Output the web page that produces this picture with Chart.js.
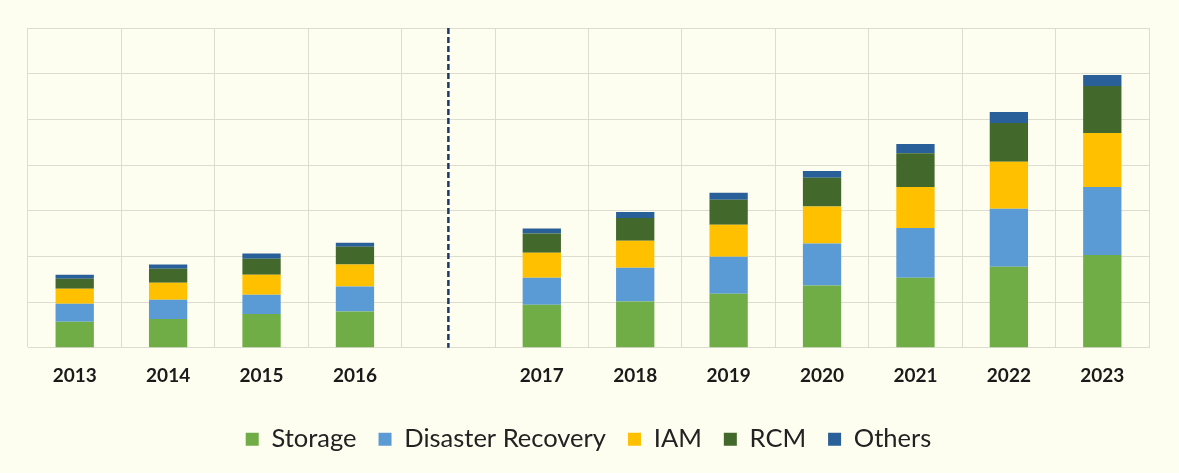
<!DOCTYPE html>
<html>
<head>
<meta charset="utf-8">
<script src="https://cdn.jsdelivr.net/npm/chart.js@4"></script>
<style>
  html, body { margin: 0; padding: 0; background: #fefef0; }
  #wrap { width: 1179px; height: 473px; }
</style>
</head>
<body>
<div id="wrap"><canvas id="marketChart"></canvas></div>
<script>
// years, with an empty slot where the dashed divider sits
const years = ['2013', '2014', '2015', '2016', '', '2017', '2018', '2019', '2020', '2021', '2022', '2023'];

const storage  = [0.57, 0.63, 0.74, 0.79, null, 0.94, 1.01, 1.18, 1.36, 1.53, 1.77, 2.03];
const recovery = [0.39, 0.42, 0.42, 0.55, null, 0.59, 0.74, 0.81, 0.92, 1.09, 1.27, 1.49];
const iam      = [0.33, 0.37, 0.44, 0.48, null, 0.55, 0.59, 0.70, 0.81, 0.90, 1.03, 1.18];
const rcm      = [0.22, 0.31, 0.35, 0.39, null, 0.42, 0.50, 0.55, 0.63, 0.74, 0.85, 1.03];
const others   = [0.09, 0.09, 0.11, 0.09, null, 0.11, 0.13, 0.15, 0.15, 0.20, 0.24, 0.24];

const dividerIndex = 4;

// dashed vertical line drawn at the empty category
const dividerLine = {
    id: 'dividerLine',
    afterDatasetsDraw(chart) {
        const x = chart.scales.x.getPixelForValue(dividerIndex);
        const area = chart.chartArea;
        const c = chart.ctx;
        c.save();
        c.strokeStyle = '#1f3864';
        c.lineWidth = 2.5;
        c.setLineDash([6, 3]);
        c.beginPath();
        c.moveTo(x, area.top);
        c.lineTo(x, area.bottom);
        c.stroke();
        c.restore();
    }
};

function bars(label, data, color) {
    return {
        label: label,
        data: data,
        backgroundColor: color,
        borderWidth: 0,
        categoryPercentage: 1,
        barPercentage: 0.41
    };
}

const ctx = document.getElementById('marketChart').getContext('2d');

new Chart(ctx, {
    type: 'bar',
    data: {
        labels: years,
        datasets: [
            bars('Storage', storage, '#70ad47'),
            bars('Disaster Recovery', recovery, '#5b9bd5'),
            bars('IAM', iam, '#ffc000'),
            bars('RCM', rcm, '#43682b'),
            bars('Others', others, '#2a6099')
        ]
    },
    options: {
        responsive: true,
        maintainAspectRatio: false,
        animation: false,
        layout: {
            padding: { left: 28, right: 30, top: 28, bottom: 11 }
        },
        scales: {
            x: {
                stacked: true,
                grid: {
                    offset: true,
                    color: '#dddcd0',
                    drawTicks: false
                },
                border: { display: true, color: '#dddcd0' },
                ticks: {
                    padding: 17,
                    color: '#1a1a1a',
                    font: { family: 'Lato', size: 19, weight: 'bold' }
                }
            },
            y: {
                stacked: true,
                min: 0,
                max: 7,
                grid: {
                    color: '#dddcd0',
                    drawTicks: false
                },
                border: { display: false },
                ticks: { display: false, stepSize: 1 }
            }
        },
        plugins: {
            legend: {
                position: 'bottom',
                labels: {
                    boxWidth: 13,
                    boxHeight: 13,
                    padding: 22,
                    color: '#222',
                    font: { family: 'Lato', size: 25.5 }
                }
            },
            tooltip: { enabled: false }
        }
    },
    plugins: [dividerLine]
});
</script>
</body>
</html>
